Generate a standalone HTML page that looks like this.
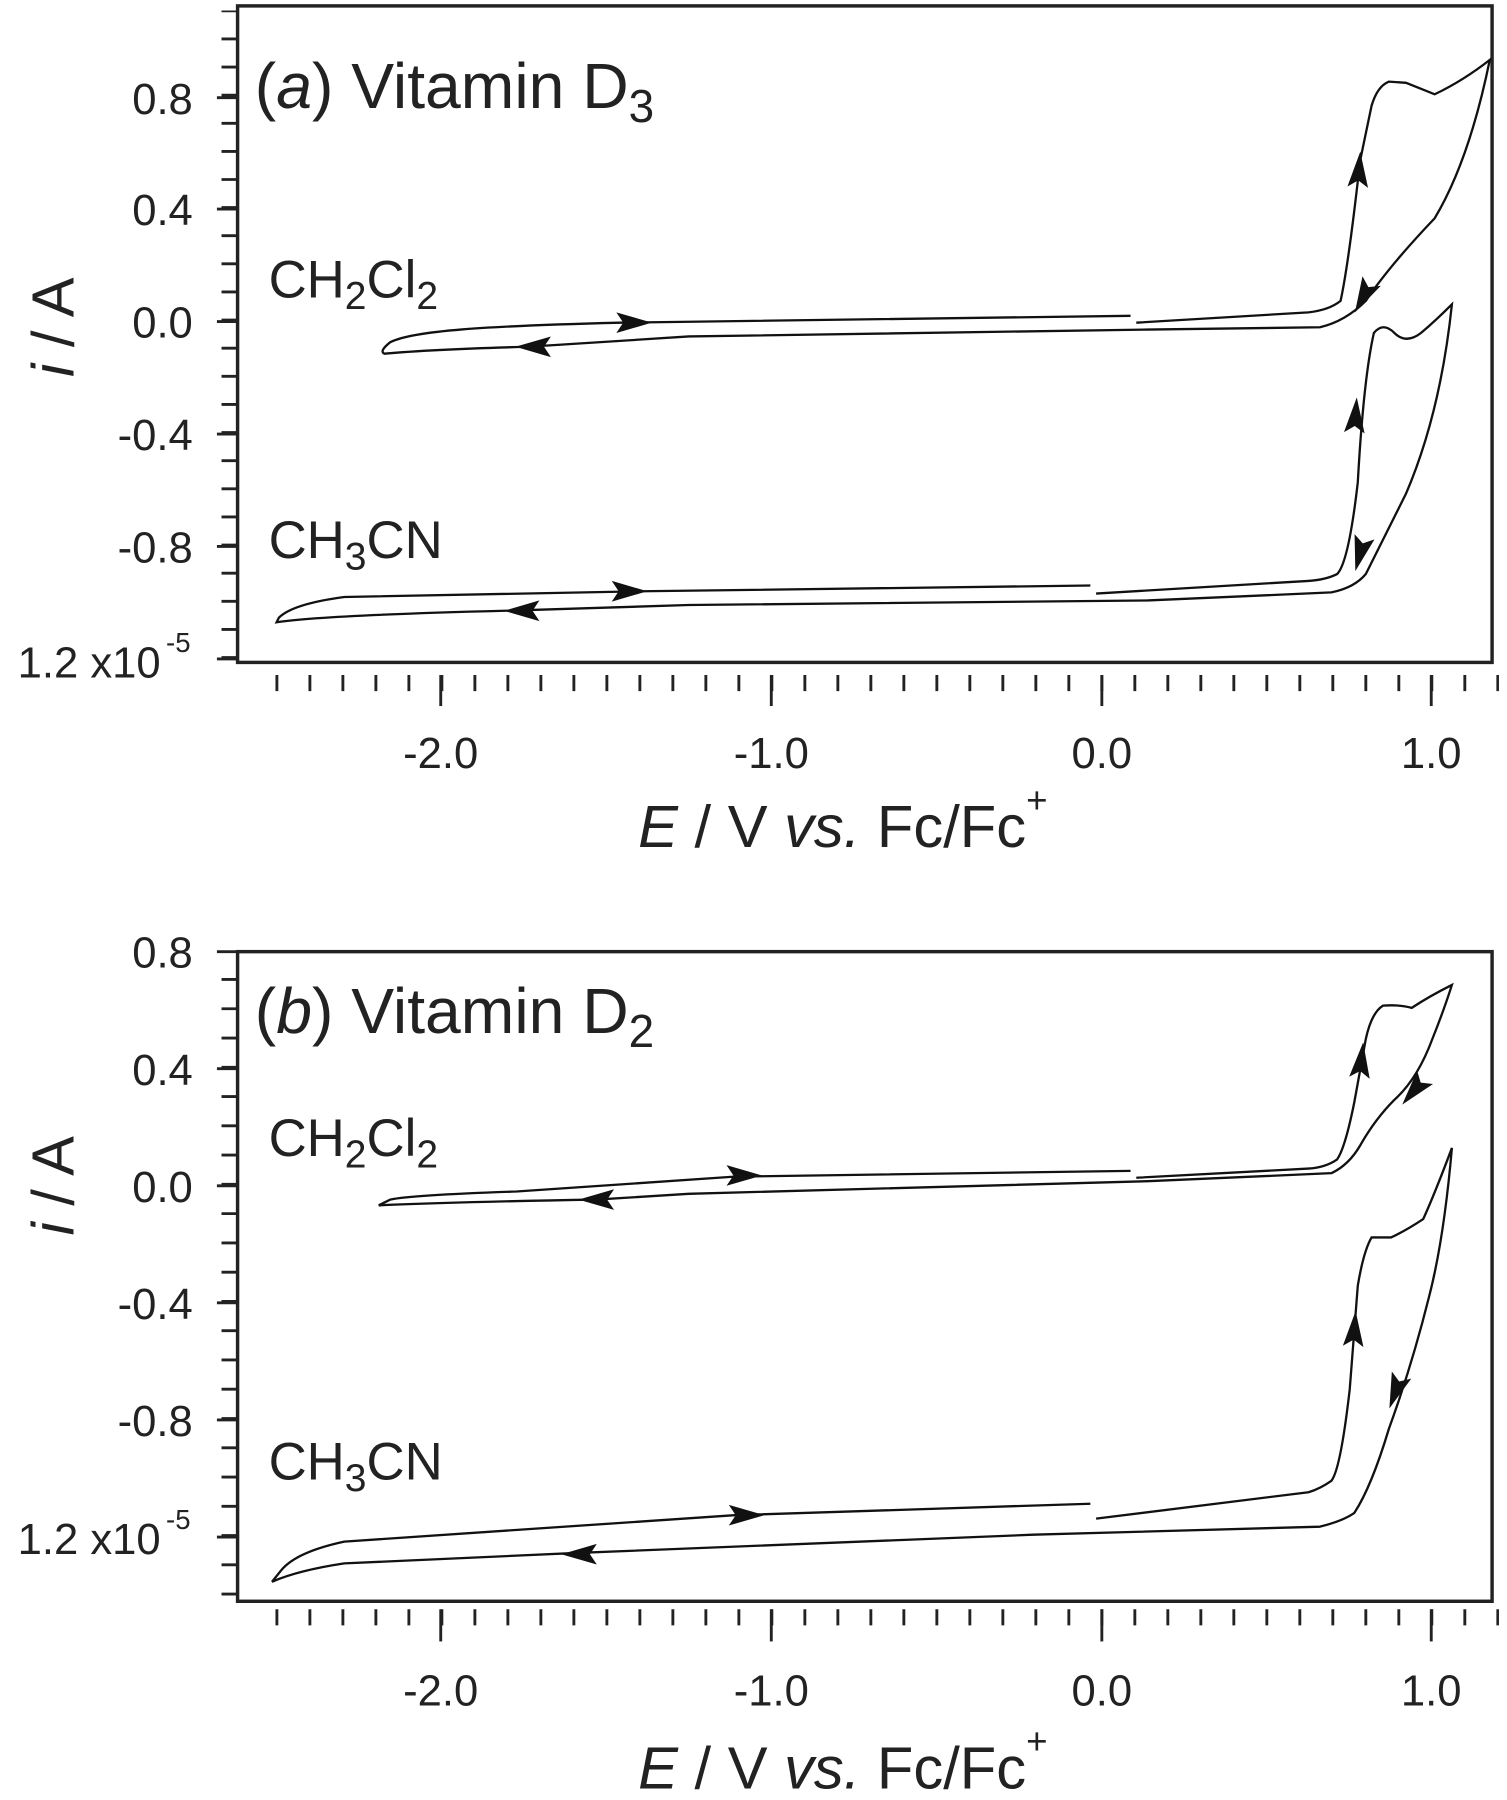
<!DOCTYPE html>
<html><head><meta charset="utf-8"><style>
html,body{margin:0;padding:0;background:#fff}
svg{display:block}
text{font-family:"Liberation Sans",Arial,sans-serif;fill:#222}
</style></head><body>
<svg width="1507" height="1800" viewBox="0 0 1313 1568" xmlns="http://www.w3.org/2000/svg">
<defs>
<path id="ar" d="M16,0 L-15,-9 L-9,0 L-15,9 Z" fill="#111"/>
</defs>
<g stroke="#222" fill="none">
<rect x="207" y="5" width="1093" height="572" stroke-width="3"/>
<line x1="200" y1="574" x2="200" y2="9" stroke-width="14" stroke-dasharray="2.5 22" />
<g stroke-width="2.5">
<line x1="189" y1="85" x2="207" y2="85"/><line x1="189" y1="182" x2="207" y2="182"/><line x1="189" y1="280" x2="207" y2="280"/><line x1="189" y1="378" x2="207" y2="378"/><line x1="189" y1="476" x2="207" y2="476"/><line x1="189" y1="574" x2="207" y2="574"/>
</g>
<line x1="240" y1="595" x2="1306" y2="595" stroke-width="14" stroke-dasharray="2.5 26.25"/>
<g stroke-width="2.5">
<line x1="384" y1="588" x2="384" y2="615"/><line x1="672" y1="588" x2="672" y2="615"/><line x1="960" y1="588" x2="960" y2="615"/><line x1="1247" y1="588" x2="1247" y2="615"/>
</g>
<rect x="207" y="829" width="1093" height="566" stroke-width="3"/>
<line x1="200" y1="1390" x2="200" y2="828" stroke-width="14" stroke-dasharray="2.5 23" />
<g stroke-width="2.5">
<line x1="189" y1="829" x2="207" y2="829"/><line x1="189" y1="931" x2="207" y2="931"/><line x1="189" y1="1033" x2="207" y2="1033"/><line x1="189" y1="1135" x2="207" y2="1135"/><line x1="189" y1="1237" x2="207" y2="1237"/><line x1="189" y1="1339" x2="207" y2="1339"/>
</g>
<line x1="240" y1="1409" x2="1306" y2="1409" stroke-width="14" stroke-dasharray="2.5 26.25"/>
<g stroke-width="2.5">
<line x1="384" y1="1402" x2="384" y2="1430"/><line x1="672" y1="1402" x2="672" y2="1430"/><line x1="960" y1="1402" x2="960" y2="1430"/><line x1="1247" y1="1402" x2="1247" y2="1430"/>
</g>

<g stroke="#111" stroke-width="2">
<path d="M985,275 L540,281 C420,284 360,288 340,298 Q330,306 335,308 Q380,304 460,302 L600,293 L1000,287 L1150,285 Q1172,280 1190,262 Q1210,232 1250,190 Q1280,140 1298,52 Q1275,70 1250,82 Q1235,76 1225,72 L1210,71 Q1200,75 1195,92 L1185,140 Q1175,230 1168,262 Q1158,270 1140,272 L990,281"/>
<path d="M950,510 L560,515 L300,520 Q255,526 243,538 L241,542 Q280,536 440,532 L600,527 L1000,523 L1160,516 Q1180,512 1190,500 Q1205,470 1225,430 Q1255,360 1265,265 Q1250,280 1238,290 Q1225,300 1215,290 Q1205,280 1197,290 Q1188,330 1183,420 Q1175,490 1165,500 Q1155,505 1140,506 L955,517"/>
<path d="M985,1020 L640,1025 L450,1038 Q360,1041 340,1045 L330,1050 Q400,1047 520,1045 L600,1040 L1000,1029 L1160,1022 Q1175,1015 1185,998 Q1198,975 1215,958 Q1235,940 1248,905 Q1258,880 1265,858 Q1245,868 1230,878 Q1220,875 1205,876 Q1195,882 1190,905 L1180,960 Q1172,1000 1165,1010 Q1155,1017 1140,1018 L990,1026"/>
<path d="M950,1310 L640,1320 L300,1343 Q258,1352 245,1368 L237,1378 Q260,1368 300,1362 L500,1353 L900,1337 L1150,1330 Q1170,1325 1180,1318 Q1195,1295 1210,1245 Q1230,1190 1245,1130 Q1258,1080 1265,1000 Q1250,1040 1240,1062 Q1225,1072 1212,1078 L1195,1078 Q1188,1090 1183,1120 L1176,1210 Q1168,1280 1160,1290 Q1150,1297 1140,1300 L955,1323"/>
</g>
</g>
<use href="#ar" transform="translate(552,281)"/>
<use href="#ar" transform="translate(465,302) rotate(180)"/>
<use href="#ar" transform="translate(1184,148) rotate(-86)"/>
<use href="#ar" transform="translate(1188,258) rotate(118)"/>
<use href="#ar" transform="translate(548,515)"/>
<use href="#ar" transform="translate(455,532) rotate(180)"/>
<use href="#ar" transform="translate(1181,362) rotate(-86)"/>
<use href="#ar" transform="translate(1185,482) rotate(105)"/>
<use href="#ar" transform="translate(648,1024)"/>
<use href="#ar" transform="translate(520,1045) rotate(180)"/>
<use href="#ar" transform="translate(1186,924) rotate(-84)"/>
<use href="#ar" transform="translate(1232,950) rotate(130)"/>
<use href="#ar" transform="translate(650,1320)"/>
<use href="#ar" transform="translate(505,1354) rotate(180)"/>
<use href="#ar" transform="translate(1180,1158) rotate(-86)"/>
<use href="#ar" transform="translate(1216,1212) rotate(110)"/>

<g font-size="38" text-anchor="end">
<text x="168" y="99">0.8</text><text x="168" y="196">0.4</text><text x="168" y="294">0.0</text><text x="168" y="392">-0.4</text><text x="168" y="490">-0.8</text><text x="140" y="590">1.2 x10</text><text x="166" y="568" font-size="24">-5</text>
<text x="168" y="843">0.8</text><text x="168" y="945">0.4</text><text x="168" y="1047">0.0</text><text x="168" y="1149">-0.4</text><text x="168" y="1251">-0.8</text><text x="140" y="1354">1.2 x10</text><text x="166" y="1332" font-size="24">-5</text>
</g>
<g font-size="38" text-anchor="middle">
<text x="384" y="669">-2.0</text><text x="672" y="669">-1.0</text><text x="960" y="669">0.0</text><text x="1247" y="669">1.0</text>
<text x="384" y="1486">-2.0</text><text x="672" y="1486">-1.0</text><text x="960" y="1486">0.0</text><text x="1247" y="1486">1.0</text>
</g>
<text x="556" y="738" font-size="52"><tspan font-style="italic">E</tspan> / V <tspan font-style="italic">vs.</tspan> Fc/Fc<tspan font-size="32" dy="-30">+</tspan></text>
<text x="556" y="1558" font-size="52"><tspan font-style="italic">E</tspan> / V <tspan font-style="italic">vs.</tspan> Fc/Fc<tspan font-size="32" dy="-30">+</tspan></text>
<text transform="translate(64,285) rotate(-90)" font-size="52" text-anchor="middle"><tspan font-style="italic">i</tspan> / A</text>
<text transform="translate(64,1033) rotate(-90)" font-size="52" text-anchor="middle"><tspan font-style="italic">i</tspan> / A</text>
<text x="222" y="94" font-size="56">(<tspan font-style="italic">a</tspan>) Vitamin D<tspan font-size="40" dy="12">3</tspan></text>
<text x="222" y="900" font-size="56">(<tspan font-style="italic">b</tspan>) Vitamin D<tspan font-size="40" dy="12">2</tspan></text>
<text x="234" y="259" font-size="46">CH<tspan font-size="34" dy="10">2</tspan><tspan dy="-10">Cl</tspan><tspan font-size="34" dy="10">2</tspan></text>
<text x="234" y="486" font-size="46">CH<tspan font-size="34" dy="10">3</tspan><tspan dy="-10">CN</tspan></text>
<text x="234" y="1007" font-size="46">CH<tspan font-size="34" dy="10">2</tspan><tspan dy="-10">Cl</tspan><tspan font-size="34" dy="10">2</tspan></text>
<text x="234" y="1289" font-size="46">CH<tspan font-size="34" dy="10">3</tspan><tspan dy="-10">CN</tspan></text>
</svg>
</body></html>
